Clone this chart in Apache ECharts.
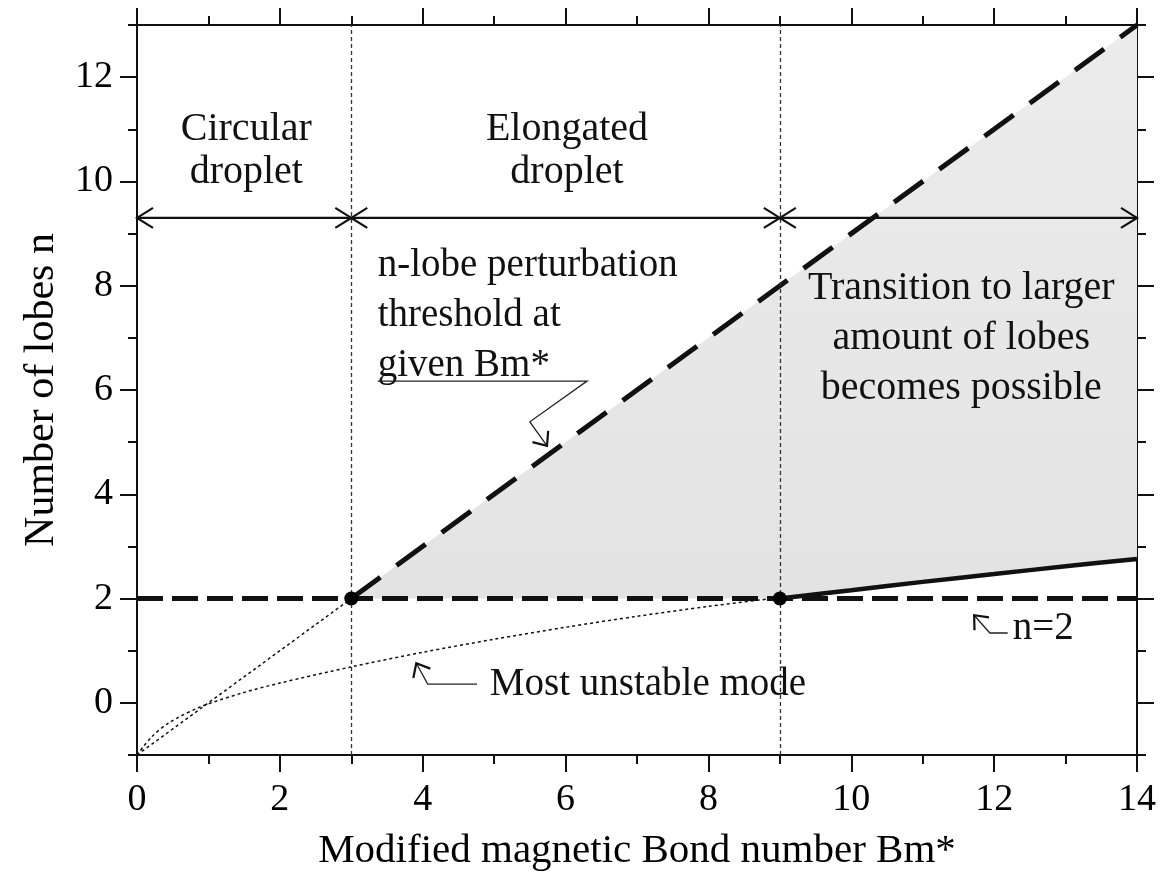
<!DOCTYPE html>
<html>
<head>
<meta charset="utf-8">
<script src="https://cdn.jsdelivr.net/npm/echarts@6/dist/echarts.min.js"></script>
<style>
  html, body { margin: 0; padding: 0; background: #fff; }
  #chart { width: 1169px; height: 892px; }
</style>
</head>
<body>
<div id="chart"></div>
<script>
// Axis ticks
const xMajorTicks = [0, 2, 4, 6, 8, 10, 12, 14];
const xMinorTicks = [1, 3, 5, 7, 9, 11, 13];
const yMajorTicks = [0, 2, 4, 6, 8, 10, 12];
const yMinorTicks = [-1, 1, 3, 5, 7, 9, 11, 13];
const xRange = [0, 14];
const yRange = [-1, 13];

// n-lobe perturbation threshold (dashed) and its dotted continuation below Bm* = 3
const thresholdBm = [3, 14];
const thresholdN = [2, 13];
const thresholdExtBm = [0, 3];
const thresholdExtN = [-1, 2];

// n = 2 reference level
const n2Bm = [0, 14];
const n2N = [2, 2];

// Most unstable mode: dotted up to Bm* = 9, solid beyond
const unstableBm = [0, 0.2, 0.45, 0.9, 1.5, 2, 3, 4, 5, 6, 7, 8, 9];
const unstableN = [-1, -0.66, -0.38, -0.07, 0.2, 0.38, 0.69, 0.97, 1.22, 1.45, 1.66, 1.85, 2.02];
const transitionBm = [9, 10, 11, 12, 13, 14];
const transitionN = [2, 2.16, 2.32, 2.47, 2.62, 2.76];

// Critical Bond numbers where the regime changes
const criticalBm = [3, 9];
const criticalN = [2, 2];

// Regime bounds shown by the double arrows, and the arrow level
const regimeBounds = [0, 3, 9, 14];
const regimeArrowN = 9.3;

const FONT = "'Liberation Serif', 'Times New Roman', serif";
const INK = '#111';

const pairs = (xs, ys) => xs.map((x, i) => [x, ys[i]]);

// Region where more lobes become possible: between threshold, n = 2 and the transition curve
const shadePolygon = [
  [thresholdBm[0], thresholdN[0]],
  [thresholdBm[1], thresholdN[1]],
  ...pairs(transitionBm, transitionN).reverse()
];

const regimeSegments = regimeBounds.slice(0, -1).map((b, i) => [b, regimeBounds[i + 1], regimeArrowN]);

function majorAxis(pos, ticks, withLabels) {
  const vertical = pos === 'left' || pos === 'right';
  return {
    type: 'value', position: pos,
    min: vertical ? yRange[0] : xRange[0],
    max: vertical ? yRange[1] : xRange[1],
    axisLine: { show: true, onZero: false, lineStyle: { color: INK, width: 2 } },
    axisTick: { show: true, customValues: ticks, length: 17, lineStyle: { color: INK, width: 2 } },
    axisLabel: withLabels
      ? { show: true, customValues: ticks, color: '#000', fontFamily: FONT, fontSize: 38 }
      : { show: false },
    splitLine: { show: false }
  };
}
function minorAxis(pos, ticks) {
  const vertical = pos === 'left' || pos === 'right';
  return {
    type: 'value', position: pos,
    min: vertical ? yRange[0] : xRange[0],
    max: vertical ? yRange[1] : xRange[1],
    axisLine: { show: false, onZero: false },
    axisTick: { show: true, customValues: ticks, length: 9, lineStyle: { color: INK, width: 2 } },
    axisLabel: { show: false },
    splitLine: { show: false }
  };
}

const xBottom = majorAxis('bottom', xMajorTicks, true);
xBottom.axisLabel.margin = 26;
xBottom.name = 'Modified magnetic Bond number Bm*';
xBottom.nameLocation = 'middle';
xBottom.nameGap = 76;
xBottom.nameTextStyle = { fontFamily: FONT, fontSize: 41, color: '#000' };

const yLeft = majorAxis('left', yMajorTicks, true);
yLeft.axisLabel.margin = 24;
yLeft.name = 'Number of lobes n';
yLeft.nameLocation = 'middle';
yLeft.nameGap = 74;
yLeft.nameRotate = 90;
yLeft.nameTextStyle = { fontFamily: FONT, fontSize: 42, color: '#000' };

const chart = echarts.init(document.getElementById('chart'), null, { renderer: 'canvas' });

chart.setOption({
  animation: false,
  backgroundColor: '#fff',
  grid: { left: 137, right: 32, top: 25, bottom: 137, containLabel: false },
  xAxis: [xBottom, minorAxis('bottom', xMinorTicks), majorAxis('top', xMajorTicks, false), minorAxis('top', xMinorTicks)],
  yAxis: [yLeft, minorAxis('left', yMinorTicks), majorAxis('right', yMajorTicks, false), minorAxis('right', yMinorTicks)],
  series: [
    {
      type: 'custom', name: 'shade', z: 1, silent: true,
      data: shadePolygon,
      renderItem(params, api) {
        if (params.dataIndex !== 0) return null;
        return {
          type: 'polygon',
          shape: { points: shadePolygon.map(p => api.coord(p)) },
          style: {
            fill: new echarts.graphic.LinearGradient(0, 0, 0, 1, [
              { offset: 0, color: '#ececec' },
              { offset: 1, color: '#e3e3e3' }
            ])
          }
        };
      }
    },
    {
      type: 'line', name: 'guides', z: 2, symbol: 'none', silent: true,
      data: [],
      markLine: {
        silent: true, symbol: 'none', label: { show: false },
        lineStyle: { color: '#333', width: 1.3, type: [4, 3] },
        data: criticalBm.map(b => ({ xAxis: b }))
      }
    },
    {
      type: 'line', name: 'threshold-ext', z: 3, symbol: 'none',
      data: pairs(thresholdExtBm, thresholdExtN),
      lineStyle: { color: INK, width: 1.5, type: [3, 3] }
    },
    {
      type: 'line', name: 'most-unstable', z: 3, symbol: 'none',
      smooth: 0.3,
      data: pairs(unstableBm, unstableN),
      lineStyle: { color: INK, width: 1.5, type: [3, 3] }
    },
    {
      type: 'line', name: 'n2', z: 4, symbol: 'none',
      data: pairs(n2Bm, n2N),
      lineStyle: { color: INK, width: 5, type: [26, 9] }
    },
    {
      type: 'line', name: 'threshold', z: 4, symbol: 'none',
      data: pairs(thresholdBm, thresholdN),
      lineStyle: { color: INK, width: 5, type: [36, 20] }
    },
    {
      type: 'line', name: 'transition', z: 4, symbol: 'none',
      smooth: 0.3,
      data: pairs(transitionBm, transitionN),
      lineStyle: { color: INK, width: 4.5 }
    },
    {
      type: 'scatter', name: 'critical', z: 5, symbol: 'circle', symbolSize: 14,
      data: pairs(criticalBm, criticalN),
      itemStyle: { color: '#000', opacity: 1 }
    },
    {
      type: 'custom', name: 'regimes', z: 5, clip: false, silent: true,
      data: regimeSegments,
      encode: { x: [0, 1], y: 2 },
      renderItem(params, api) {
        const p0 = api.coord([api.value(0), api.value(2)]);
        const p1 = api.coord([api.value(1), api.value(2)]);
        const L = 16, W = 10;
        const st = { stroke: INK, lineWidth: 2.2, fill: null };
        return {
          type: 'group',
          children: [
            { type: 'line', shape: { x1: p0[0], y1: p0[1], x2: p1[0], y2: p1[1] }, style: st },
            { type: 'polyline', shape: { points: [[p0[0] + L, p0[1] - W], p0, [p0[0] + L, p0[1] + W]] }, style: st },
            { type: 'polyline', shape: { points: [[p1[0] - L, p1[1] - W], p1, [p1[0] - L, p1[1] + W]] }, style: st }
          ]
        };
      }
    }
  ]
});

// Text annotations and their leader arrows, placed in data units
const notes = [
  { text: 'Circular\ndroplet', at: [1.53, 10.58], align: 'center', lh: 43, size: 40 },
  { text: 'Elongated\ndroplet', at: [6.02, 10.58], align: 'center', lh: 43, size: 40 },
  { text: 'n-lobe perturbation\nthreshold at\ngiven Bm*', at: [3.37, 7.42], align: 'left', lh: 50, size: 39 },
  { text: 'Transition to larger\namount of lobes\nbecomes possible', at: [11.54, 6.98], align: 'center', lh: 50, size: 40 },
  { text: 'Most unstable mode', at: [4.94, 0.34], align: 'left', lh: 40, size: 39 },
  { text: 'n=2', at: [12.26, 1.42], align: 'left', lh: 40, size: 39 }
];
const leaders = [
  [[3.37, 6.17], [6.30, 6.17], [5.50, 5.39], [5.74, 4.93]],
  [[4.76, 0.36], [4.07, 0.36], [3.91, 0.76]],
  [[12.19, 1.34], [11.94, 1.34], [11.72, 1.68]]
];

const toPx = p => chart.convertToPixel({ xAxisIndex: 0, yAxisIndex: 0 }, p);

function arrowHead(tip, from, len, half) {
  const a = Math.atan2(from[1] - tip[1], from[0] - tip[0]);
  return [
    [tip[0] + len * Math.cos(a + half), tip[1] + len * Math.sin(a + half)],
    tip,
    [tip[0] + len * Math.cos(a - half), tip[1] + len * Math.sin(a - half)]
  ];
}

const graphics = [];
notes.forEach(n => {
  const p = toPx(n.at);
  graphics.push({
    type: 'text', x: p[0], y: p[1], z: 20, silent: true,
    style: {
      text: n.text, fill: '#111', font: `${n.size}px ${FONT}`,
      align: n.align, verticalAlign: 'middle', lineHeight: n.lh
    }
  });
});
leaders.forEach(path => {
  const pts = path.map(toPx);
  graphics.push({
    type: 'polyline', z: 20, silent: true,
    shape: { points: pts },
    style: { stroke: '#222', lineWidth: 1.3, fill: null }
  });
  const tip = pts[pts.length - 1];
  const prev = pts[pts.length - 2];
  graphics.push({
    type: 'polyline', z: 20, silent: true,
    shape: { points: arrowHead(tip, prev, 15, 0.7) },
    style: { stroke: '#111', lineWidth: 2.2, fill: null }
  });
});
chart.setOption({ graphic: graphics });
</script>
</body>
</html>
